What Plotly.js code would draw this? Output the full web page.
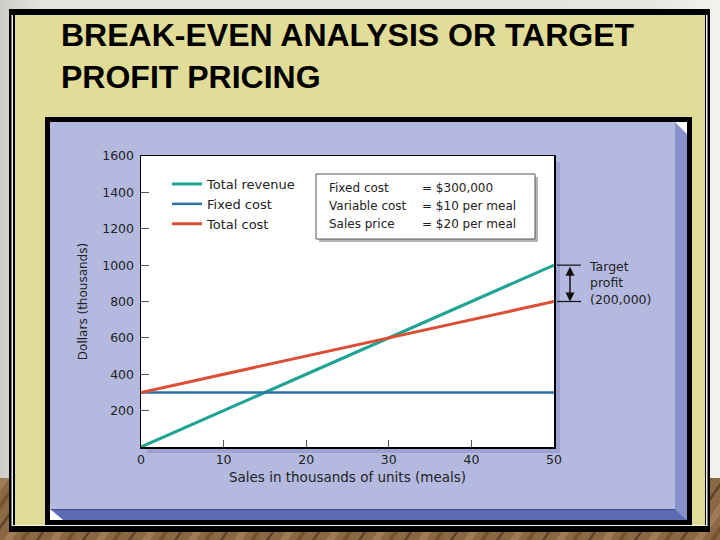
<!DOCTYPE html>
<html>
<head>
<meta charset="utf-8">
<script src="https://cdn.plot.ly/plotly-3.0.1.min.js"></script>
<style>
  html, body { margin: 0; padding: 0; }
  #wrap { position: relative; width: 720px; height: 540px; overflow: hidden; }
  #deco { position: absolute; left: 0; top: 0; }
  #chart { position: absolute; left: 0; top: 0; width: 720px; height: 540px; }
</style>
</head>
<body>
<div id="wrap">
<svg id="deco" width="720" height="540" xmlns="http://www.w3.org/2000/svg">
  <defs>
    <linearGradient id="wall" x1="0" y1="0" x2="1" y2="0">
      <stop offset="0" stop-color="#cfcdc8"/>
      <stop offset="0.06" stop-color="#e4e3df"/>
      <stop offset="0.9" stop-color="#e6e5e1"/>
      <stop offset="1" stop-color="#f3f2ef"/>
    </linearGradient>
    <pattern id="wood" width="46" height="60" patternUnits="userSpaceOnUse" patternTransform="skewX(-35)">
      <rect width="46" height="60" fill="#8b6844"/>
      <rect x="0" width="3" height="60" fill="#5e4128"/>
      <rect x="14" width="8" height="60" fill="#a07b55"/>
      <rect x="30" width="5" height="60" fill="#75542f"/>
    </pattern>
  </defs>
  <rect x="0" y="0" width="720" height="540" fill="url(#wall)"/>
  <rect x="0" y="478" width="720" height="62" fill="url(#wood)"/>
  <!-- frame -->
  <rect x="9" y="9" width="701" height="523" fill="#000"/>
  <rect x="11.5" y="15" width="696" height="511" fill="#f4f2e6"/>
  <rect x="13" y="15" width="693" height="510" fill="#000"/>
  <rect x="15" y="15" width="690" height="510" fill="#e1dc97"/>
  <!-- chart panel -->
  <rect x="45" y="117" width="647" height="408" fill="#000"/>
  <rect x="50" y="122" width="637" height="398" fill="#b4b9df"/>
  <polygon points="675,122 687,134 687,520 675,509" fill="#8890c9"/>
  <polygon points="675,122 687,122 687,134" fill="#ffffff"/>
  <polygon points="50,509 675,509 687,520 63,520" fill="#5b6bb6"/>
  <line x1="50" y1="509.5" x2="675" y2="509.5" stroke="#3f4c90" stroke-width="1"/>
  <polygon points="50,509 63,520 50,520" fill="#ffffff"/>
</svg>
<div id="chart"></div>
</div>
<script>
// ---- data (thousands of meals, thousands of dollars) ----
const units        = [0, 10, 20, 30, 40, 50];
const totalRevenue = [0, 200, 400, 600, 800, 1000];
const fixedCost    = [300, 300, 300, 300, 300, 300];
const totalCost    = [300, 400, 500, 600, 700, 800];
const seriesNames  = ['Total revenue', 'Fixed cost', 'Total cost'];
const xTicks       = [0, 10, 20, 30, 40, 50];
const yTicks       = [200, 400, 600, 800, 1000, 1200, 1400, 1600];
const paramLabels  = ['Fixed cost', 'Variable cost', 'Sales price'];
const paramValues  = ['= $300,000', '= $10 per meal', '= $20 per meal'];
const targetTop    = 1000;
const targetBottom = 800;
const targetText   = 'Target<br>profit<br>(200,000)';

const colors = ['#1fa393', '#2a72a8', '#dc4f36'];
const FONT = 'DejaVu Sans, sans-serif';

const traces = [
  {x: units, y: totalRevenue, name: seriesNames[0], mode: 'lines', line: {color: colors[0], width: 3}},
  {x: units, y: fixedCost,    name: seriesNames[1], mode: 'lines', line: {color: colors[1], width: 2.5}},
  {x: units, y: totalCost,    name: seriesNames[2], mode: 'lines', line: {color: colors[2], width: 3}}
];

// plot area in pixels: left 141, right 554, top 156, bottom 447
const L = 141, R = 554, T = 156, B = 447;
const px = v => (v - L) / (R - L);
const py = v => (B - v) / (B - T);

const annotations = [];
paramLabels.forEach((t, i) => {
  const yy = py(188 + i * 18);
  annotations.push({xref: 'paper', yref: 'paper', x: px(327), y: yy, xanchor: 'left', yanchor: 'middle',
    text: t, showarrow: false, font: {family: FONT, size: 12, color: '#222'}});
  annotations.push({xref: 'paper', yref: 'paper', x: px(420), y: yy, xanchor: 'left', yanchor: 'middle',
    text: paramValues[i], showarrow: false, font: {family: FONT, size: 12, color: '#222'}});
});
annotations.push({xref: 'paper', yref: 'y', x: px(570), y: targetBottom, axref: 'pixel', ax: 0,
  ayref: 'y', ay: targetTop, text: '', showarrow: true, arrowside: 'end+start', arrowhead: 2,
  arrowsize: 1.2, arrowwidth: 1.5, arrowcolor: '#111', standoff: 0, startstandoff: 0});
annotations.push({xref: 'paper', yref: 'y', x: px(587), y: (targetTop + targetBottom) / 2,
  xanchor: 'left', yanchor: 'middle', align: 'left', text: targetText, showarrow: false,
  font: {family: FONT, size: 12.5, color: '#222'}});

const shapes = [
  // plot shadow and white plot area
  {type: 'rect', xref: 'paper', yref: 'paper', x0: px(147), x1: px(560), y0: py(453), y1: py(162),
   fillcolor: '#9ca3d4', line: {width: 0}, layer: 'below'},
  {type: 'rect', xref: 'paper', yref: 'paper', x0: 0, x1: 1, y0: 0, y1: 1,
   fillcolor: '#ffffff', line: {width: 0}, layer: 'below'},
  // parameter box with shadow
  {type: 'rect', xref: 'paper', yref: 'paper', x0: px(319), x1: px(538), y0: py(242), y1: py(177),
   fillcolor: '#b5b5b5', line: {width: 0}, layer: 'below'},
  {type: 'rect', xref: 'paper', yref: 'paper', x0: px(316), x1: px(535), y0: py(239), y1: py(174),
   fillcolor: '#ffffff', line: {color: '#555', width: 1}, layer: 'below'},
  // target profit brackets
  {type: 'line', xref: 'paper', yref: 'y', x0: px(557), x1: px(581), y0: targetTop, y1: targetTop,
   line: {color: '#111', width: 1.2}},
  {type: 'line', xref: 'paper', yref: 'y', x0: px(557), x1: px(581), y0: targetBottom, y1: targetBottom,
   line: {color: '#111', width: 1.2}}
];

const layout = {
  width: 720, height: 540,
  paper_bgcolor: 'rgba(0,0,0,0)', plot_bgcolor: 'rgba(0,0,0,0)',
  margin: {l: L, r: 720 - R, t: T, b: 540 - B, pad: 0},
  title: {
    text: 'BREAK-EVEN ANALYSIS OR TARGET<br>PROFIT PRICING',
    xref: 'container', yref: 'container', x: 61 / 720, xanchor: 'left',
    y: 1 - 46 / 540, yanchor: 'top',
    font: {family: 'Liberation Sans, Arial, sans-serif', size: 32, color: '#000', weight: 'bold'}
  },
  showlegend: true,
  legend: {x: px(167), y: py(169), xanchor: 'left', yanchor: 'top', bgcolor: 'rgba(0,0,0,0)',
    borderwidth: 0, font: {family: FONT, size: 13, color: '#222'}, tracegroupgap: 0},
  xaxis: {
    range: [0, 50], tickvals: xTicks, ticktext: xTicks.map(String),
    ticks: 'inside', ticklen: 7, tickwidth: 1.2, tickcolor: '#555',
    showline: true, linecolor: '#000', linewidth: 1.5, mirror: true,
    showgrid: false, zeroline: false, fixedrange: true,
    tickfont: {family: FONT, size: 12.5, color: '#222'},
    title: {text: 'Sales in thousands of units (meals)', standoff: 7, font: {family: FONT, size: 13.5, color: '#222'}}
  },
  yaxis: {
    range: [0, 1600], tickvals: yTicks, ticktext: yTicks.map(String),
    ticks: 'inside', ticklen: 8, tickwidth: 1.2, tickcolor: '#555',
    showline: true, linecolor: '#000', linewidth: 1.5, mirror: true,
    showgrid: false, zeroline: false, fixedrange: true, ticklabelstandoff: 3,
    tickfont: {family: FONT, size: 12.5, color: '#222'},
    title: {text: 'Dollars (thousands)', standoff: 12, font: {family: FONT, size: 12, color: '#222'}}
  },
  shapes: shapes,
  annotations: annotations
};

Plotly.newPlot('chart', traces, layout, {displayModeBar: false, staticPlot: true});
</script>
</body>
</html>
